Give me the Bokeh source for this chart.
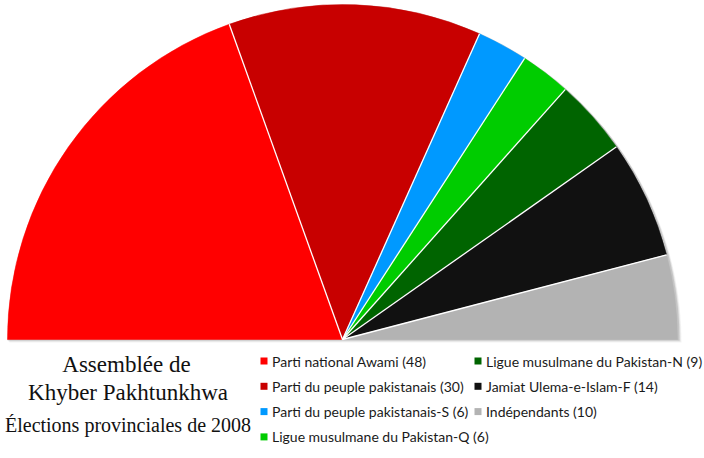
import numpy as np
from bokeh.plotting import figure
from bokeh.models import Range1d, ColumnDataSource
from bokeh.core.properties import value
from bokeh.embed import file_html
from bokeh.resources import INLINE

parties = ["Parti national Awami", "Parti du peuple pakistanais", "Parti du peuple pakistanais-S",
           "Ligue musulmane du Pakistan-Q", "Ligue musulmane du Pakistan-N",
           "Jamiat Ulema-e-Islam-F", "Indépendants"]
seats = [48, 30, 6, 6, 9, 14, 10]
colors = ["#FF0000", "#C80000", "#0099FF", "#00CC00", "#006400", "#111111", "#B3B3B3"]
title_lines = ["Assemblée de", "Khyber Pakhtunkhwa", "Élections provinciales de 2008"]

W, H = 704, 458
CX, CY, R = 342, H - 339, 335

p = figure(width=W, height=H, output_backend="svg", toolbar_location=None,
           x_range=Range1d(0, W), y_range=Range1d(0, H),
           x_axis_type=None, y_axis_type=None, min_border=0)
p.grid.visible = False
p.outline_line_color = None

# shadow (soft, offset down-right)
for off, a in [(3, 0.10), (2, 0.18), (1, 0.30)]:
    p.wedge(x=CX + off, y=CY - off, radius=R + 1, start_angle=0, end_angle=np.pi,
            fill_color="#888888", fill_alpha=a, line_color=None)

total = sum(seats)
cum = np.concatenate([[0], np.cumsum(seats)]) / total
ends = np.pi - cum[:-1] * np.pi
starts = np.pi - cum[1:] * np.pi
src = ColumnDataSource(dict(start=starts, end=ends, color=colors))
p.wedge(x=CX, y=CY, radius=R, start_angle="start", end_angle="end",
        fill_color="color", line_color="color", line_width=0.5, source=src)

# white separators
b = np.pi - cum[1:-1] * np.pi
p.segment(x0=CX, y0=CY, x1=CX + R * np.cos(b), y1=CY + R * np.sin(b),
          line_color="white", line_width=1.3)

# title
p.text(x=[126, 127.5], y=[H - 364, H - 392], text=title_lines[:2], text_font=value("Liberation Serif"),
       text_font_size="23px", text_align="center", text_baseline="middle", text_color="#111111")
p.text(x=[127.5], y=[H - 424], text=title_lines[2:], text_font=value("Liberation Serif"),
       text_font_size="20px", text_align="center", text_baseline="middle", text_color="#111111")

# legend
n = len(parties)
col = np.array([i // 4 for i in range(n)])
row = np.array([i % 4 for i in range(n)])
sq_x = np.where(col == 0, 263.5, 477.5)
ly = H - (360.5 + row * 25.3)
labels = [f"{pt} ({s})" for pt, s in zip(parties, seats)]
p.rect(x=sq_x, y=ly, width=7, height=7, fill_color=colors, line_color=None)
p.text(x=sq_x + 8, y=ly, text=labels, text_font=value("Lato"), text_font_size="14px",
       text_baseline="middle", text_color="#1a1a1a")

open("out.html", "w").write(file_html(p, INLINE))
